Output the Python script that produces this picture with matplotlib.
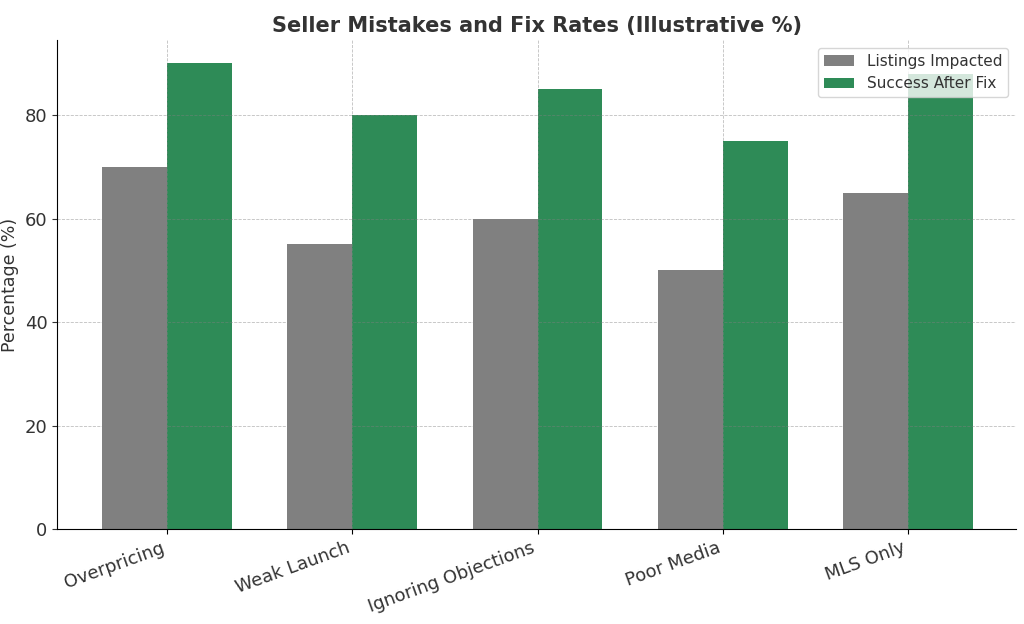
import numpy as np
import matplotlib.pyplot as plt

categories = ["Overpricing", "Weak Launch", "Ignoring Objections", "Poor Media", "MLS Only"]
listings_impacted = [70, 55, 60, 50, 65]
success_after_fix = [90, 80, 85, 75, 88]

x = np.arange(len(categories))
w = 0.35

fig, ax = plt.subplots(figsize=(10.24, 6.24), dpi=100)
ax.bar(x - w/2, listings_impacted, w, color='#808080', label='Listings Impacted')
ax.bar(x + w/2, success_after_fix, w, color='#2e8b57', label='Success After Fix')

ax.set_title('Seller Mistakes and Fix Rates (Illustrative %)', fontsize=15, fontweight='bold', color='#333333')
ax.set_ylabel('Percentage (%)', fontsize=12.5, color='#333333')
ax.set_xticks(x)
ax.set_xticklabels(categories, rotation=20, ha='right', fontsize=13, color='#333333')
ax.tick_params(axis='y', labelsize=13, colors='#333333')
ax.set_xlim(-0.59, 4.58)
ax.set_ylim(0, 94.5)
ax.grid(color='grey', linestyle='--', lw=0.6, alpha=0.5)
ax.spines['top'].set_visible(False)
ax.spines['right'].set_visible(False)
leg = ax.legend(loc='upper right', fontsize=11)
for t in leg.get_texts():
    t.set_color('#333333')

plt.subplots_adjust(left=0.056, right=0.992, top=0.936, bottom=0.152)
plt.savefig('out.png')
